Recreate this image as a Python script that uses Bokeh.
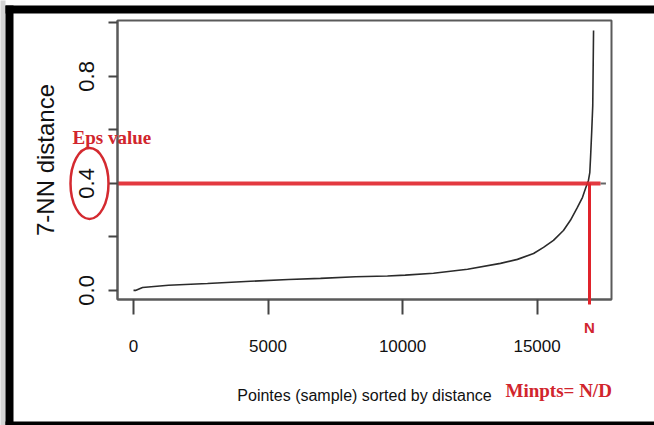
from bokeh.plotting import figure
from bokeh.models import FixedTicker, PrintfTickFormatter
from bokeh.core.properties import value
from bokeh.embed import file_html
from bokeh.resources import INLINE

# ---- data ----
point_index = [0, 74, 335, 1300, 2750, 4350, 5760, 6950, 8250, 9440, 10100,
               11150, 12415, 13640, 14270, 14870, 15240, 15610, 15980, 16240,
               16500, 16690, 16800, 16910, 16960, 16990, 17030, 17070, 17100]
knn_distance = [0.0, 0.0, 0.011, 0.019, 0.026, 0.034, 0.041, 0.045, 0.051, 0.054,
                0.057, 0.064, 0.079, 0.101, 0.116, 0.138, 0.161, 0.187, 0.224,
                0.262, 0.310, 0.348, 0.381, 0.411, 0.44, 0.50, 0.59, 0.69, 0.972]
eps_value = 0.4
n_point = 16950
x_ticks = [0, 5000, 10000, 15000]
y_ticks = [0.0, 0.4, 0.8]
y_minor_ticks = [0.2, 0.6, 1.0]

RED = "#e0232b"
TXT_RED = "#d1252d"

W, H = 654, 425
FL, FR, FT, FB = 117, 611, 20, 299          # plot frame edges in pixels
X0, X1 = -595, 17767
Y0, Y1 = -0.034, 1.009

p = figure(width=W, height=H, x_range=(X0, X1), y_range=(Y0, Y1),
           output_backend="svg", toolbar_location=None,
           min_border_left=FL, min_border_right=W - FR,
           min_border_top=FT, min_border_bottom=H - FB)
p.background_fill_color = "white"
p.border_fill_color = "white"
p.grid.visible = False
p.outline_line_color = "#5a5a5a"
p.outline_line_width = 2

def px_x(px):
    return X0 + (px - FL) * (X1 - X0) / (FR - FL)

def px_y(py):
    return Y1 - (py - FT) * (Y1 - Y0) / (FB - FT)

# curve
p.line(point_index, knn_distance, line_color="#2b2b2b", line_width=1.6)

# eps horizontal line and N vertical line
p.segment(x0=[X0], y0=[eps_value], x1=[17360], y1=[eps_value],
          line_color=RED, line_width=4, line_alpha=0.9)
p.segment(x0=[17360], y0=[eps_value], x1=[17560], y1=[eps_value],
          line_color="#666666", line_width=2)
p.segment(x0=[n_point], y0=[eps_value], x1=[n_point], y1=[px_y(304)],
          line_color=RED, line_width=3, level="overlay")

# ellipse around the 0.4 tick label
p.ellipse(x=[px_x(89)], y=[eps_value], width=38, height=71,
          width_units="screen", height_units="screen",
          fill_alpha=0, line_color="#d42a30", line_width=2.5, level="overlay")

# axes
xa = p.xaxis[0]
xa.ticker = FixedTicker(ticks=x_ticks, minor_ticks=[])
xa.formatter = PrintfTickFormatter(format="%d")
xa.axis_label = "Pointes (sample) sorted by distance"
xa.major_tick_out = 15
xa.major_tick_in = 0
xa.major_label_standoff = 25
xa.axis_label_standoff = 32
xa.major_label_text_font = "Liberation Sans"
xa.major_label_text_font_size = "17px"
xa.axis_label_text_font = "Liberation Sans"
xa.axis_label_text_font_size = "16px"
xa.axis_label_text_font_style = "normal"

ya = p.yaxis[0]
ya.ticker = FixedTicker(ticks=y_ticks, minor_ticks=y_minor_ticks)
ya.formatter = PrintfTickFormatter(format="%.1f")
ya.axis_label = "7-NN distance"
ya.major_tick_out = 9
ya.major_tick_in = 0
ya.minor_tick_out = 9
ya.minor_tick_in = 0
ya.major_label_orientation = "vertical"
ya.major_label_standoff = 14
ya.axis_label_standoff = 18
ya.major_label_text_font = "Liberation Sans"
ya.major_label_text_font_size = "22px"
ya.axis_label_text_font = "Liberation Sans"
ya.axis_label_text_font_size = "24px"
ya.axis_label_text_font_style = "normal"

for ax in (xa, ya):
    ax.axis_line_color = "#5a5a5a"
    ax.axis_line_width = 2
    ax.major_tick_line_color = "#444444"
    ax.major_tick_line_width = 2
    ax.minor_tick_line_color = "#444444"
    ax.minor_tick_line_width = 2
    ax.major_label_text_color = "#111111"
    ax.axis_label_text_color = "#111111"

# red annotations (overlay level so they may sit outside the frame)
p.text(x=[px_x(72)], y=[px_y(137)], text=["Eps value"],
       text_font=value("Liberation Serif"), text_font_style="bold",
       text_font_size="19px", text_color=TXT_RED,
       text_align="left", text_baseline="alphabetic", level="overlay")
p.text(x=[n_point], y=[px_y(327)], text=["N"],
       text_font=value("Liberation Sans"), text_font_style="bold",
       text_font_size="15px", text_color=TXT_RED,
       text_align="center", text_baseline="alphabetic", level="overlay")
p.text(x=[px_x(505)], y=[px_y(390)], text=["Minpts= N/D"],
       text_font=value("Liberation Serif"), text_font_style="bold",
       text_font_size="19px", text_color=TXT_RED,
       text_align="left", text_baseline="alphabetic", level="overlay")

# black frame of the screenshot
p.quad(left=[px_x(0)], right=[px_x(5)], bottom=[px_y(H)], top=[px_y(0)],
       fill_color="#d4d4d4", line_alpha=0, level="overlay")
p.quad(left=[px_x(5), px_x(5), px_x(5)], right=[px_x(13), px_x(W), px_x(W)],
       bottom=[px_y(H), px_y(13), px_y(H)], top=[px_y(5), px_y(5), px_y(421)],
       fill_color="black", line_alpha=0, level="overlay")

open("out.html", "w").write(file_html(p, INLINE))
